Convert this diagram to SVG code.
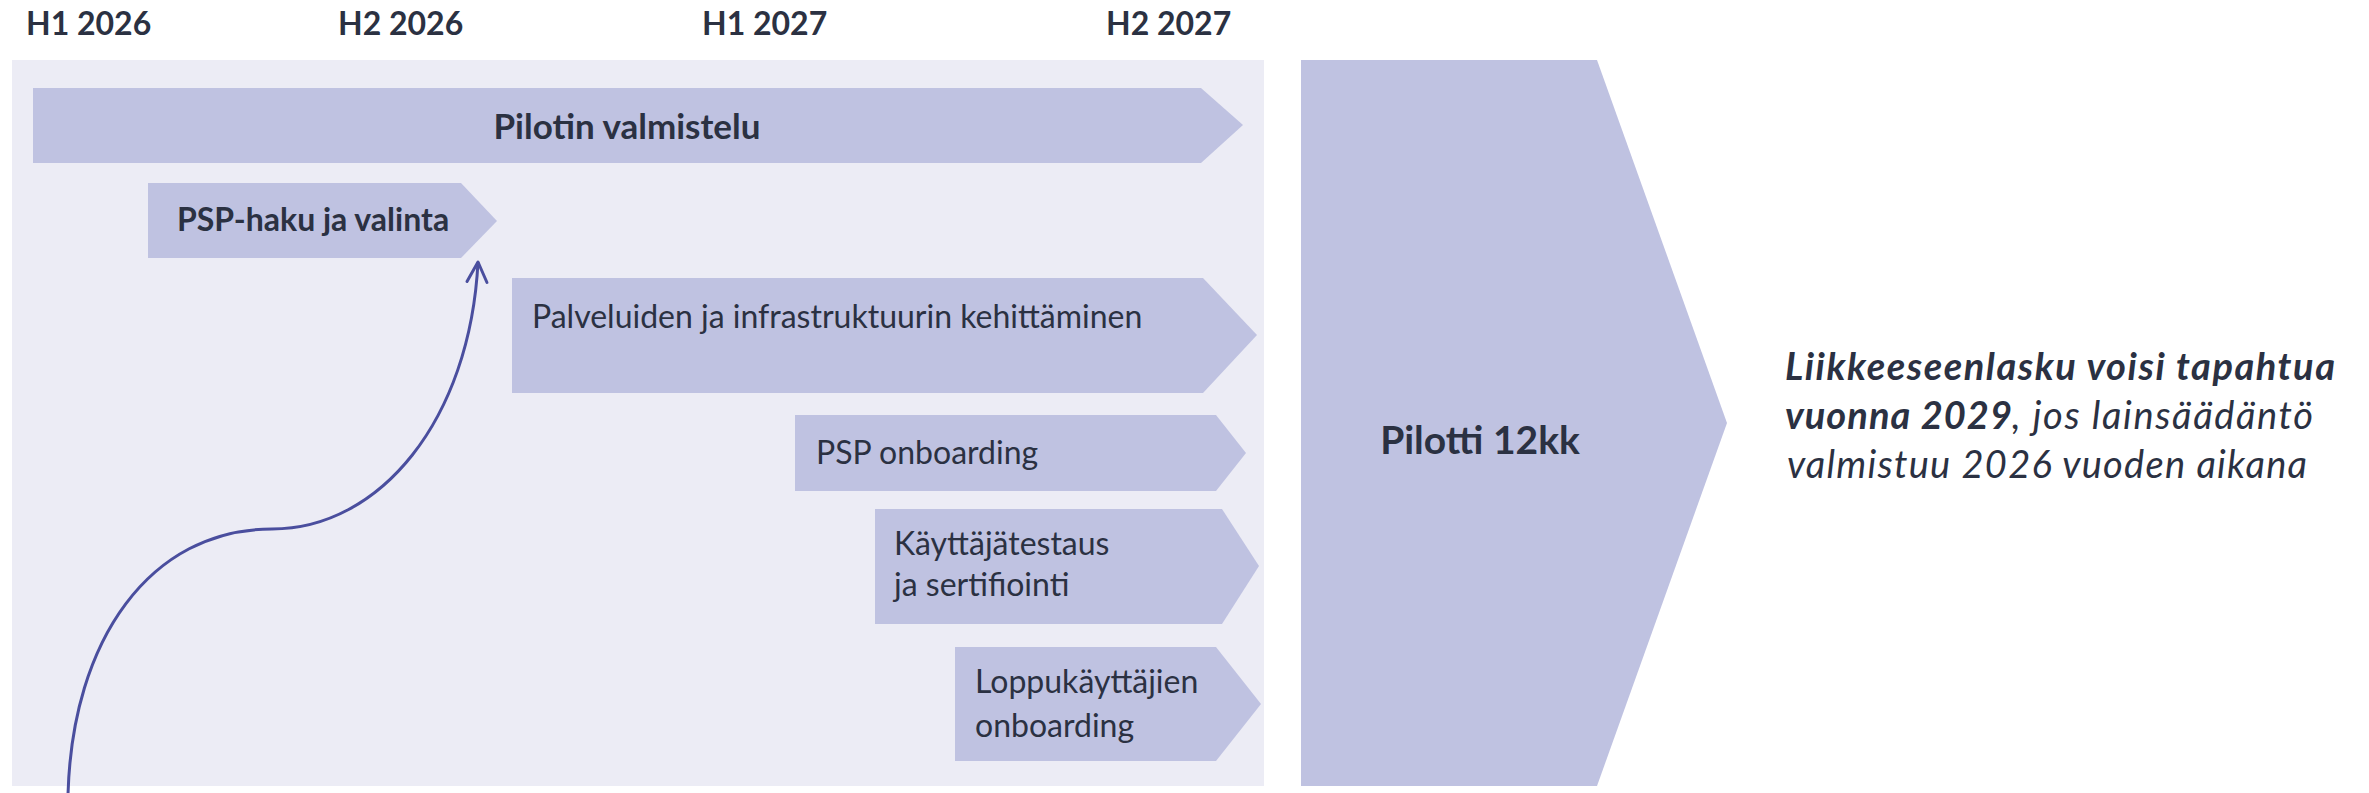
<svg xmlns="http://www.w3.org/2000/svg" width="2369" height="793" viewBox="0 0 2369 793">
<defs>
<style>
.bar{fill:#BFC2E1}
.t{font-family:Lato,"Open Sans","Liberation Sans",sans-serif;fill:#2B3142}
.hdr{font-size:32px;font-weight:bold}
.b{font-weight:bold}
.lbl{font-size:32px}
.side{font-size:38px;font-style:italic}
</style>
<marker id="ah" markerUnits="userSpaceOnUse" markerWidth="30" markerHeight="30" viewBox="-25 -15 30 30" refX="0" refY="0" orient="auto">
<path d="M -20 -10 L 0 0 L -20 10" fill="none" stroke="#4A4E9E" stroke-width="3" stroke-linecap="round" stroke-linejoin="round"/>
</marker>
</defs>
<rect width="2369" height="793" fill="#FFFFFF"/>
<g id="headers">
<text class="t hdr" x="26" y="35">H1 2026</text>
<text class="t hdr" x="338" y="35">H2 2026</text>
<text class="t hdr" x="702" y="35">H1 2027</text>
<text class="t hdr" x="1106" y="35">H2 2027</text>
</g>
<rect id="panel" x="12" y="60" width="1252" height="726" fill="#ECECF5"/>
<g id="pilotin-valmistelu">
<polygon class="bar" points="33,88 1201,88 1243,125 1201,163 33,163"/>
<text class="t b" font-size="35" x="627" y="139" text-anchor="middle">Pilotin valmistelu</text>
</g>
<g id="psp-haku">
<polygon class="bar" points="148,183 461,183 497,221 461,258 148,258"/>
<text class="t lbl b" x="177" y="231">PSP-haku ja valinta</text>
</g>
<g id="palveluiden">
<polygon class="bar" points="512,278 1203,278 1257,335 1203,393 512,393"/>
<text class="t lbl" x="532" y="328">Palveluiden ja infrastruktuurin kehittäminen</text>
</g>
<g id="psp-onboarding">
<polygon class="bar" points="795,415 1216,415 1246,453 1216,491 795,491"/>
<text class="t lbl" x="816" y="464">PSP onboarding</text>
</g>
<g id="kayttajatestaus">
<polygon class="bar" points="875,509 1222,509 1259,566 1222,624 875,624"/>
<text class="t lbl" x="894" y="555">Käyttäjätestaus</text>
<text class="t lbl" x="894" y="596">ja sertifiointi</text>
</g>
<g id="loppukayttajien">
<polygon class="bar" points="955,647 1216,647 1261,704 1216,761 955,761"/>
<text class="t lbl" x="975" y="693">Loppukäyttäjien</text>
<text class="t lbl" x="975" y="737">onboarding</text>
</g>
<g id="pilotti">
<polygon class="bar" points="1301,60 1597,60 1727,423 1597,786 1301,786"/>
<text class="t b" font-size="39" x="1480" y="454" text-anchor="middle">Pilotti 12kk</text>
</g>
<g id="note">
<text class="t side b" x="1785" y="380" textLength="550">Liikkeeseenlasku voisi tapahtua</text>
<text class="t side b" x="1785" y="429" textLength="227">vuonna 2029</text>
<text class="t side" x="2012" y="429" textLength="301">, jos lainsäädäntö</text>
<text class="t side" x="1787" y="478" textLength="520">valmistuu 2026 vuoden aikana</text>
</g>
<g id="connectors">
<path d="M 68 795 C 72 640 150 529 272 529 C 380 529 470 420 478 262" fill="none" stroke="#4A4E9E" stroke-width="3" marker-end="url(#ah)"/>
</g>
</svg>
